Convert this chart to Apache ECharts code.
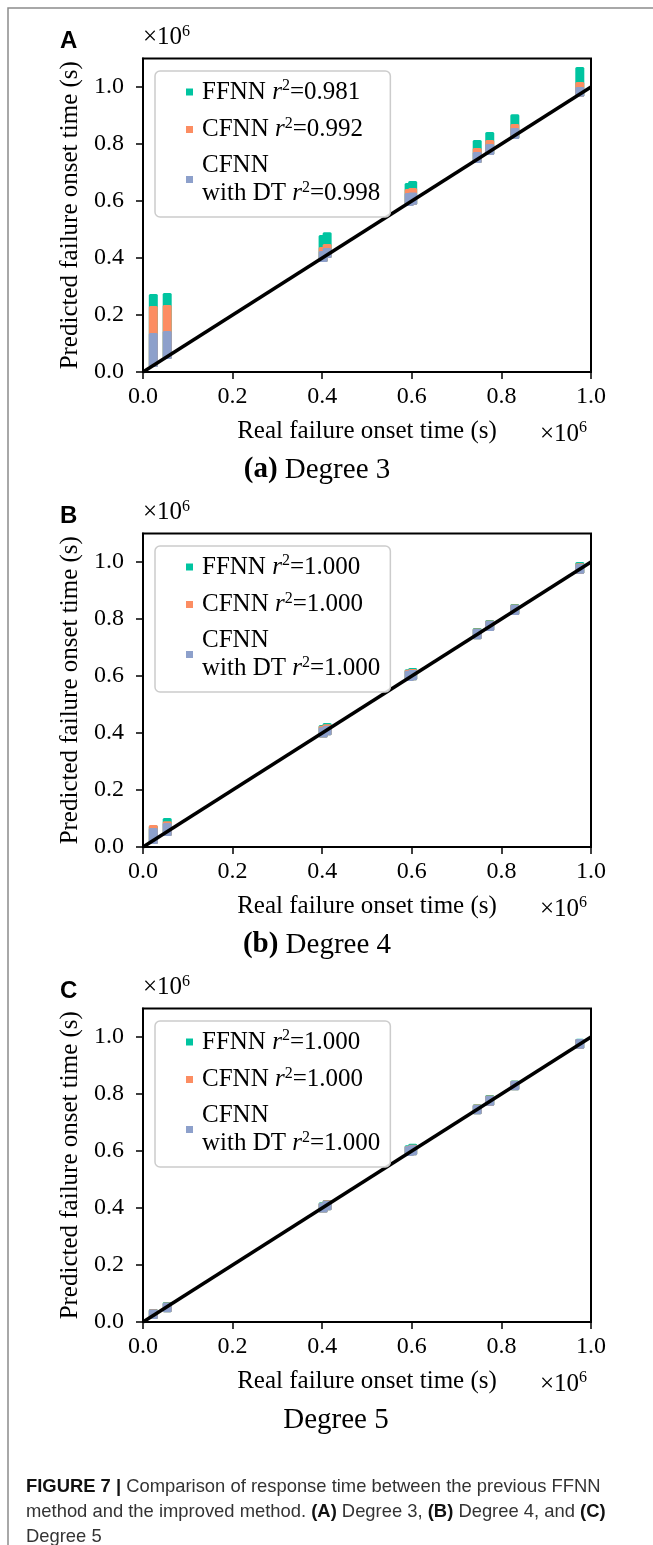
<!DOCTYPE html>
<html>
<head>
<meta charset="utf-8">
<script src="https://cdn.jsdelivr.net/npm/echarts@6/dist/echarts.min.js"></script>
<style>
  html, body { margin: 0; padding: 0; background: #fff; }
  #chart { width: 653px; height: 1545px; }
</style>
</head>
<body>
<div id="chart"></div>
<script>
// real failure onset time (x 1e6 s), one column of predictions per case
var realTime = [0.023, 0.054, 0.402, 0.411, 0.594, 0.602, 0.746, 0.774, 0.830, 0.975];

// predicted onset time (x 1e6 s): top of each column, per model
var deg3Ffnn = [0.258, 0.261, 0.465, 0.475, 0.647, 0.654, 0.798, 0.826, 0.889, 1.054];
var deg3Cfnn = [0.216, 0.219, 0.423, 0.433, 0.626, 0.630, 0.770, 0.798, 0.854, 1.002];
var deg3Dt   = [0.121, 0.128, 0.409, 0.419, 0.612, 0.614, 0.756, 0.784, 0.840, 0.984];
var deg3Low  = [0.033, 0.061, 0.402, 0.416, 0.598, 0.603, 0.749, 0.777, 0.833, 0.982];

var deg4Ffnn = [0.060, 0.086, 0.412, 0.419, 0.608, 0.612, 0.753, 0.781, 0.837, 0.984];
var deg4Cfnn = [0.061, 0.075, 0.410, 0.415, 0.606, 0.609, 0.751, 0.779, 0.835, 0.980];
var deg4Dt   = [0.051, 0.068, 0.404, 0.410, 0.603, 0.605, 0.749, 0.777, 0.833, 0.977];
var deg4Low  = [0.026, 0.054, 0.400, 0.408, 0.598, 0.601, 0.745, 0.774, 0.830, 0.975];

var deg5Ffnn = [0.030, 0.054, 0.404, 0.412, 0.604, 0.610, 0.748, 0.781, 0.832, 0.978];
var deg5Cfnn = [0.029, 0.053, 0.403, 0.411, 0.602, 0.606, 0.747, 0.779, 0.831, 0.977];
var deg5Dt   = [0.028, 0.052, 0.402, 0.410, 0.601, 0.604, 0.746, 0.777, 0.830, 0.977];
var deg5Low  = [0.026, 0.050, 0.400, 0.408, 0.598, 0.601, 0.745, 0.775, 0.829, 0.975];

var r2Deg3 = ['0.981', '0.992', '0.998'];
var r2Deg4 = ['1.000', '1.000', '1.000'];
var r2Deg5 = ['1.000', '1.000', '1.000'];

var xTicks = [0, 0.2, 0.4, 0.6, 0.8, 1.0];
var yTicks = [0, 0.2, 0.4, 0.6, 0.8, 1.0];
var diagonal = [[0, 0], [1, 1]];

var FONT = '"Liberation Serif", "DejaVu Serif", serif';
var SANS = '"Liberation Sans", Arial, sans-serif';
var colors = ['#00c4a0', '#fc8d62', '#8da0cb'];
var modelNames = ['FFNN', 'CFNN', 'DT'];

var panels = [
	{ key: 'A', top: 58.5, tops: [deg3Ffnn, deg3Cfnn, deg3Dt], low: deg3Low, r2: r2Deg3 },
	{ key: 'B', top: 533.5, tops: [deg4Ffnn, deg4Cfnn, deg4Dt], low: deg4Low, r2: r2Deg4 },
	{ key: 'C', top: 1008.5, tops: [deg5Ffnn, deg5Cfnn, deg5Dt], low: deg5Low, r2: r2Deg5 }
];

var PLOT_H = 313.5;

function columnItem(params, api) {
	var x = api.value(0);
	var p1 = api.coord([x, api.value(2)]);
	var p2 = api.coord([x, api.value(1)]);
	return {
		type: 'rect',
		shape: { x: p1[0] - 4.5, y: p1[1] - 4.5, width: 9, height: p2[1] - p1[1] + 9, r: 1.5 },
		style: { fill: api.visual('color') }
	};
}

function legendText(name) {
	var parts = name.split('|');
	var r2 = '{i|r}{s|2}{t|=' + parts[2] + '}';
	if (parts[1] == 'DT') return '{g|}{t|CFNN}\n{g|}{t|with DT }' + r2;
	return '{g|}{t|' + parts[1] + ' }' + r2;
}

var grids = [], xAxes = [], yAxes = [], series = [], legends = [], graphics = [];

panels.forEach(function(p, k) {
	grids.push({
		left: 143, width: 448, top: p.top, height: PLOT_H,
		show: true, borderColor: '#000', borderWidth: 2, backgroundColor: 'transparent'
	});
	xAxes.push({
		gridIndex: k, type: 'value', min: 0, max: 1, interval: 0.2,
		name: 'Real failure onset time (s)', nameLocation: 'middle', nameGap: 47,
		nameTextStyle: { fontFamily: FONT, fontSize: 25, color: '#000' },
		axisLine: { lineStyle: { color: '#000', width: 2 } },
		axisTick: { length: 7, lineStyle: { color: '#000', width: 1.5 }, customValues: xTicks },
		axisLabel: {
			fontFamily: FONT, fontSize: 24, color: '#000', margin: 13, customValues: xTicks,
			formatter: function(v) { return v.toFixed(1); }
		},
		splitLine: { show: false }
	});
	yAxes.push({
		gridIndex: k, type: 'value', min: 0, max: 1.1, interval: 0.2,
		name: 'Predicted failure onset time (s)', nameLocation: 'middle', nameGap: 57,
		nameTextStyle: { fontFamily: FONT, fontSize: 25, color: '#000' },
		axisLine: { lineStyle: { color: '#000', width: 2 } },
		axisTick: { length: 7, lineStyle: { color: '#000', width: 1.5 }, customValues: yTicks },
		axisLabel: {
			fontFamily: FONT, fontSize: 24, color: '#000', margin: 19, customValues: yTicks,
			formatter: function(v) { return v.toFixed(1); }
		},
		splitLine: { show: false }
	});

	var names = [];
	for (var m = 0; m < 3; m++) {
		var nm = p.key + '|' + modelNames[m] + '|' + p.r2[m];
		names.push(nm);
		var data = [];
		for (var i = 0; i < realTime.length; i++) {
			data.push([realTime[i], p.low[i], p.tops[m][i]]);
		}
		series.push({
			name: nm, type: 'custom', xAxisIndex: k, yAxisIndex: k,
			itemStyle: { color: colors[m] }, z: 2 + m, silent: true,
			renderItem: columnItem, data: data
		});
	}
	series.push({
		type: 'line', xAxisIndex: k, yAxisIndex: k, data: diagonal,
		symbol: 'none', silent: true, z: 10, animation: false,
		lineStyle: { color: '#000', width: 3.5 }
	});

	legends.push({
		data: names, orient: 'vertical', left: 155, top: p.top + 12.5,
		itemWidth: 7, itemHeight: 7, itemGap: 11, icon: 'rect',
		padding: [7, 10, 11, 31], selectedMode: false, z: 20,
		borderColor: '#cccccc', borderWidth: 1.5, borderRadius: 5,
		backgroundColor: 'rgba(255,255,255,0.85)',
		formatter: legendText,
		textStyle: {
			rich: {
				g: { width: 4, lineHeight: 28 },
				t: { fontFamily: FONT, fontSize: 25, lineHeight: 28, color: '#000' },
				i: { fontFamily: FONT, fontSize: 25, lineHeight: 28, fontStyle: 'italic', color: '#000' },
				s: { fontFamily: FONT, fontSize: 16, lineHeight: 12, verticalAlign: 'top', color: '#000' }
			}
		}
	});

	// panel letter and axis multipliers
	graphics.push({
		type: 'text', left: 60, top: p.top - 29,
		style: { text: p.key, font: 'bold 24px ' + SANS, fill: '#000' }
	});
	graphics.push({
		type: 'text', left: 143, top: p.top - 35,
		style: {
			text: '{a|×10}{b|6}', fill: '#000',
			rich: {
				a: { fontFamily: FONT, fontSize: 25, lineHeight: 28 },
				b: { fontFamily: FONT, fontSize: 16, lineHeight: 14, verticalAlign: 'top' }
			}
		}
	});
	graphics.push({
		type: 'text', left: 540, top: p.top + PLOT_H + 48,
		style: {
			text: '{a|×10}{b|6}', fill: '#000',
			rich: {
				a: { fontFamily: FONT, fontSize: 25, lineHeight: 28 },
				b: { fontFamily: FONT, fontSize: 16, lineHeight: 14, verticalAlign: 'top' }
			}
		}
	});
});

var subTitles = ['{b|(a)} Degree 3', '{b|(b)} Degree 4', 'Degree 5'];
var subCenters = [317, 317, 336];
panels.forEach(function(p, k) {
	graphics.push({
		type: 'text', x: subCenters[k], y: p.top + PLOT_H + 98,
		style: {
			text: subTitles[k], align: 'center', verticalAlign: 'middle',
			fontFamily: FONT, fontSize: 29, fill: '#000',
			rich: { b: { fontFamily: FONT, fontSize: 29, fontWeight: 'bold' } }
		}
	});
});

// outer frame of the figure page
graphics.push({
	type: 'polyline', silent: true,
	shape: { points: [[8, 1545], [8, 8], [653, 8]] },
	style: { stroke: '#8c8c8c', lineWidth: 1.5, fill: null }
});

graphics.push({
	type: 'text', left: 26, top: 1474,
	style: {
		text: '{b|FIGURE 7 |} Comparison of response time between the previous FFNN\n' +
			'method and the improved method. {b|(A)} Degree 3, {b|(B)} Degree 4, and {b|(C)}\n' +
			'Degree 5',
		fontFamily: SANS, fontSize: 18.4, lineHeight: 25, fill: '#333',
		rich: { b: { fontFamily: SANS, fontSize: 18.4, lineHeight: 25, fontWeight: 'bold', fill: '#111' } }
	}
});

var chart = echarts.init(document.getElementById('chart'), null, { renderer: 'canvas' });
chart.setOption({
	backgroundColor: '#fff',
	animation: false,
	grid: grids,
	xAxis: xAxes,
	yAxis: yAxes,
	legend: legends,
	series: series,
	graphic: graphics
});
</script>
</body>
</html>
